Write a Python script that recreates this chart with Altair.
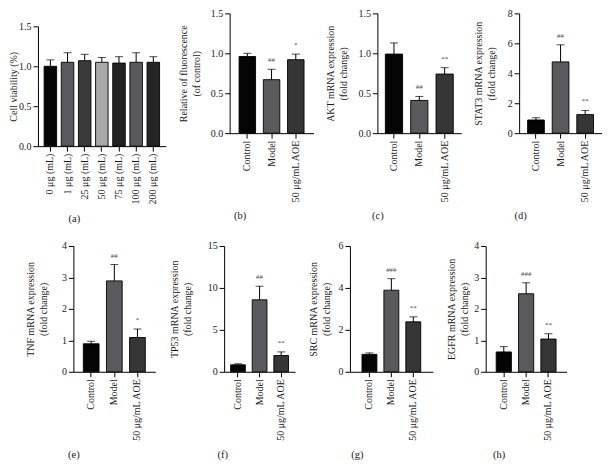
import altair as alt
import pandas as pd

FONT = "Liberation Serif"

# ---------------- data ----------------
groups = ["Control", "Model", "50 μg/mL AOE"]
group_colors = ["#050505", "#5a5a5e", "#363636"]

a_cats = ["0 μg (mL)", "1 μg (mL)", "25 μg (mL)", "50 μg (mL)", "75 μg (mL)", "100 μg (mL)", "200 μg (mL)"]
a_vals = [1.00, 1.05, 1.07, 1.05, 1.04, 1.05, 1.05]
a_errs = [1.08, 1.17, 1.15, 1.11, 1.12, 1.17, 1.12]
a_colors = ["#050505", "#5a5a5e", "#3a3a3a", "#a8a8a8", "#222222", "#5a5a5e", "#252525"]
a_marks = ["", "", "", "", "", "", ""]
a_ticks = [0, 0.5, 1.0, 1.5]

b_vals = [0.96, 0.67, 0.92]
b_errs = [1.00, 0.80, 0.99]
b_marks = ["", "##", "*"]
b_ticks = [0, 0.5, 1.0, 1.5]

c_vals = [0.99, 0.41, 0.74]
c_errs = [1.13, 0.46, 0.82]
c_marks = ["", "##", "**"]
c_ticks = [0, 0.5, 1.0, 1.5]

d_vals = [0.88, 4.76, 1.24]
d_errs = [1.03, 5.90, 1.52]
d_marks = ["", "##", "**"]
d_ticks = [0, 2, 4, 6, 8]

e_vals = [0.89, 2.89, 1.09]
e_errs = [0.97, 3.41, 1.36]
e_marks = ["", "##", "*"]
e_ticks = [0, 1, 2, 3, 4]

f_vals = [0.83, 8.58, 1.94]
f_errs = [0.95, 10.2, 2.37]
f_marks = ["", "##", "**"]
f_ticks = [0, 5, 10, 15]

g_vals = [0.83, 3.89, 2.38]
g_errs = [0.90, 4.44, 2.62]
g_marks = ["", "###", "**"]
g_ticks = [0, 2, 4, 6]

h_vals = [0.63, 2.48, 1.04]
h_errs = [0.80, 2.83, 1.21]
h_marks = ["", "###", "**"]
h_ticks = [0, 1, 2, 3, 4]


def panel(cats, vals, errs, colors, marks, ticks, fmt, ytitle, letter,
          lx, ly, w, h, tpad, pi, po, yoff=0):
    df = pd.DataFrame({"cat": cats, "val": vals, "err": errs,
                       "col": colors, "mark": marks})
    xenc = alt.X("cat:N", sort=cats,
                 scale=alt.Scale(paddingInner=pi, paddingOuter=po),
                 axis=alt.Axis(title=letter, labelAngle=-90, tickSize=5,
                               labelPadding=2, titleX=lx, titleY=ly,
                               titleAlign="center", titleBaseline="middle",
                               titleFontSize=10.5))
    yscale = alt.Scale(domain=[ticks[0], ticks[-1]], nice=False,
                       range=[h + yoff, yoff])
    yaxis = alt.Axis(title=ytitle, values=ticks, format=fmt, tickSize=5,
                     labelPadding=2, titlePadding=tpad, titleLineHeight=13)
    base = alt.Chart(df)
    bars = base.mark_bar(stroke="black", strokeWidth=0.9).encode(
        x=xenc,
        y=alt.Y("val:Q", scale=yscale, axis=yaxis),
        color=alt.Color("col:N", scale=None),
    )
    rule = base.mark_rule(color="black", strokeWidth=1).encode(
        x=xenc,
        y=alt.Y("val:Q", scale=yscale, axis=yaxis),
        y2="err:Q",
    )
    cap = base.mark_tick(color="black", size=8, thickness=1).encode(
        x=xenc,
        y=alt.Y("err:Q", scale=yscale, axis=yaxis),
    )
    txt = base.mark_text(dy=-9, fontSize=7, color="#444444", font=FONT,
                         baseline="middle").encode(
        x=xenc,
        y=alt.Y("err:Q", scale=yscale, axis=yaxis),
        text="mark:N",
    )
    return alt.layer(bars, rule, cap, txt).properties(width=w, height=h + yoff)


H1 = 120
H2 = 126
pa = panel(a_cats, a_vals, a_errs, a_colors, a_marks, a_ticks, ".1f",
           "Cell viability (%)", "(a)", 36, 72, 128, H1, 0, 0.27, 0.36, yoff=13)
pb = panel(groups, b_vals, b_errs, group_colors, b_marks, b_ticks, ".1f",
           ["Relative of fluorescence", "(of control)"], "(b)", 10, 82, 84, H1, 9, 0.32, 0.39)
pc = panel(groups, c_vals, c_errs, group_colors, c_marks, c_ticks, ".1f",
           ["AKT mRNA expression", "(fold change)"], "(c)", 0, 82, 84, H1, 9, 0.32, 0.315)
pd_ = panel(groups, d_vals, d_errs, group_colors, d_marks, d_ticks, "d",
            ["STAT3 mRNA expression", "(fold change)"], "(d)", 1, 82, 83, H1, 11, 0.32, 0.345)
pe = panel(groups, e_vals, e_errs, group_colors, e_marks, e_ticks, "d",
           ["TNF mRNA expression", "(fold change)"], "(e)", 0, 83, 82, H2, 13, 0.32, 0.43)
pf = panel(groups, f_vals, f_errs, group_colors, f_marks, f_ticks, "d",
           ["TP53 mRNA expression", "(fold change)"], "(f)", -2, 83, 71, H2, 15, 0.32, 0.30)
pg = panel(groups, g_vals, g_errs, group_colors, g_marks, g_ticks, "d",
           ["SRC mRNA expression", "(fold change)"], "(g)", 7, 83, 83, H2, 6, 0.32, 0.55)
ph = panel(groups, h_vals, h_errs, group_colors, h_marks, h_ticks, "d",
           ["EGFR mRNA expression", "(fold change)"], "(h)", 13, 83, 81, H2, 4, 0.32, 0.47)

row1 = alt.hconcat(pa, pb, pc, pd_, spacing=12)
row2 = alt.hconcat(pe, pf, pg, ph, spacing=14)

chart = alt.vconcat(row1, row2, spacing=17, center=True).properties(
    padding=0
).configure_view(stroke=None).configure_axis(
    grid=False,
    domainColor="#000000",
    tickColor="#000000",
    labelColor="#1a1a1a",
    titleColor="#1a1a1a",
    labelFont=FONT,
    titleFont=FONT,
    labelFontSize=10,
    titleFontSize=10,
    titleFontWeight="normal",
).configure_title(font=FONT)

chart.save("out.html", embed_options={"renderer": "svg", "actions": False})
